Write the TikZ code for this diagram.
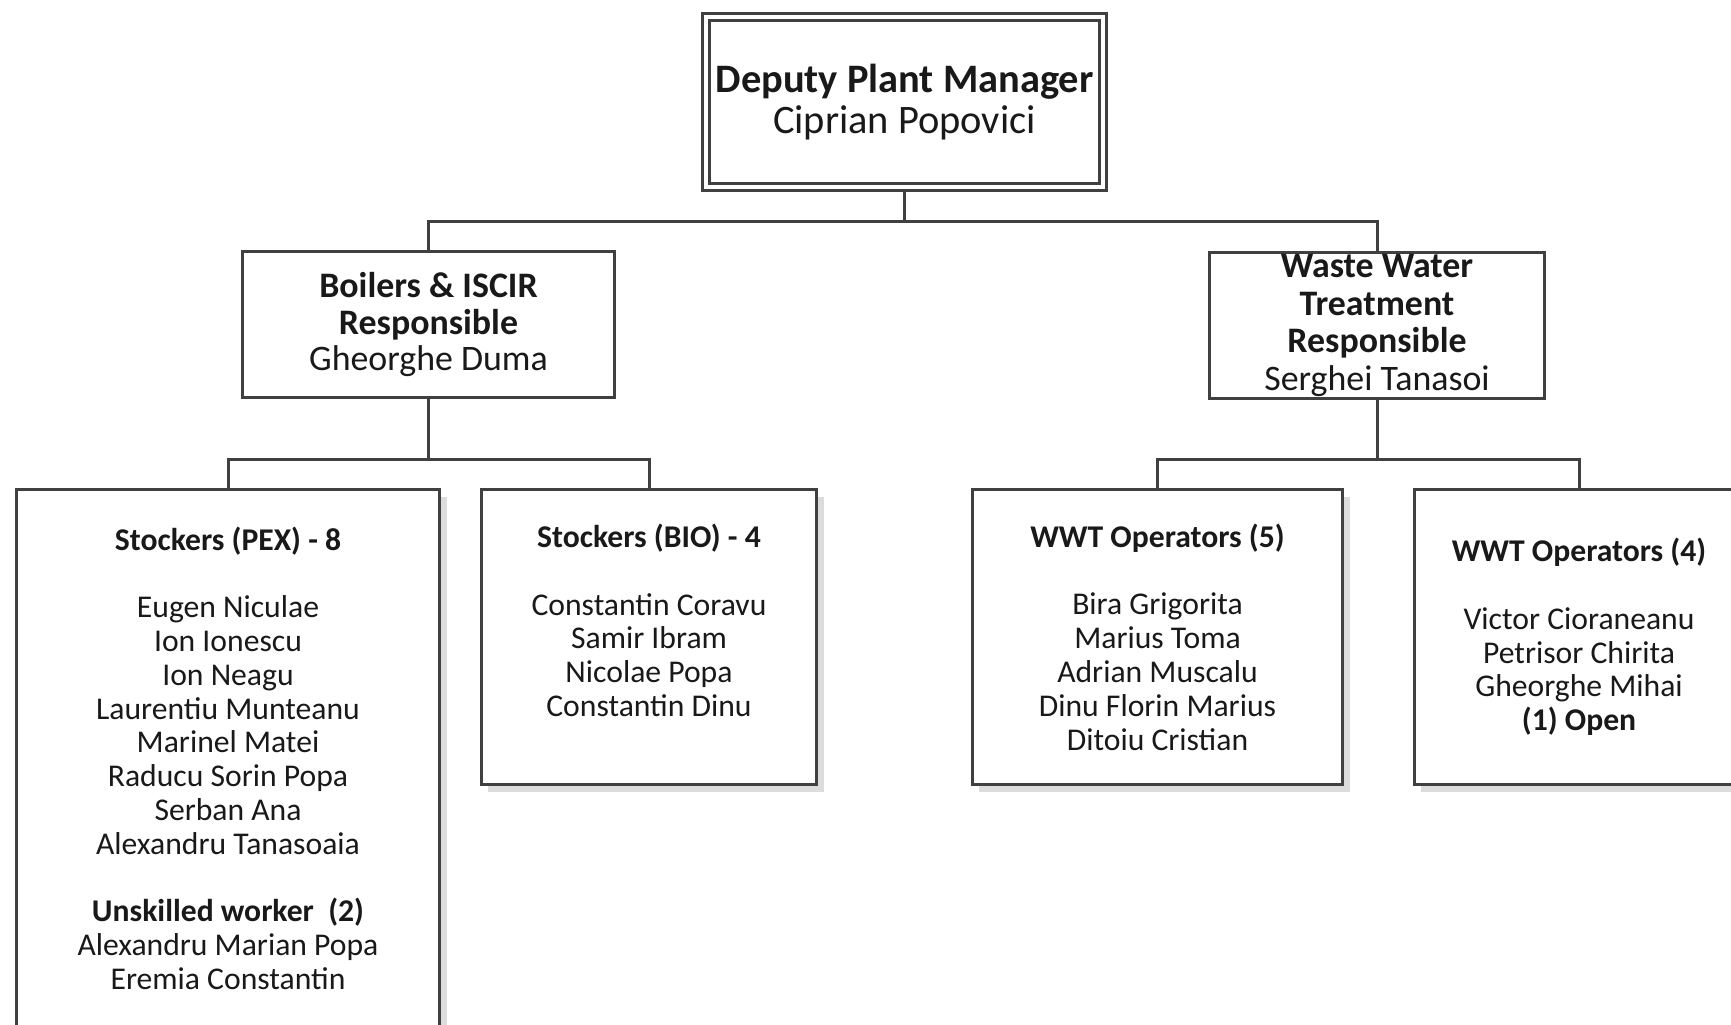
\documentclass[tikz,border=0pt]{standalone}
\usepackage{fontspec}
\setmainfont{Carlito}
\usetikzlibrary{shadows}
\definecolor{boxline}{HTML}{404040}
\definecolor{shade}{HTML}{DCDCDC}
\newcommand{\mgrfont}{\fontsize{11.5}{11.7}\selectfont}
\newcommand{\leadfont}{\fontsize{10.2}{10.4}\selectfont}
\newcommand{\wwtfont}{\fontsize{10.2}{10.7}\selectfont}
\newcommand{\crewfont}{\fontsize{9}{9.6}\selectfont}
\tikzset{
  box/.style={draw=boxline,line width=0.03cm,fill=white,text=black!90,align=center,inner sep=2pt,outer sep=0pt},
  crew/.style={box,anchor=north,font=\crewfont,general shadow={fill=shade,shadow xshift=0.07cm,shadow yshift=-0.07cm}},
  link/.style={draw=boxline,line width=0.03cm}
}

\begin{document}
\begin{tikzpicture}[x=0.01cm,y=-0.01cm]
\useasboundingbox (0,0) rectangle (1731,1024);
\clip (0,0) rectangle (1731,1024);

\node (mgr) at (904.5,102) [box,double,double distance=0.04cm,outer sep=0.05cm,minimum width=3.97cm,minimum height=1.70cm,font=\mgrfont] {\textbf{Deputy Plant Manager}\\Ciprian Popovici};

\node (boil) at (428.5,324.5) [box,minimum width=3.72cm,minimum height=1.46cm,font=\leadfont] {\textbf{Boilers \& ISCIR}\\\textbf{Responsible}\\Gheorghe Duma};
\node (wwt) at (1377,325.5) [box,inner ysep=0pt,minimum width=3.35cm,minimum height=1.46cm,font=\wwtfont] {\textbf{Waste Water}\\\textbf{Treatment}\\\textbf{Responsible}\\Serghei Tanasoi};

\node (pex) at (228,489.5) [crew,minimum width=4.23cm,minimum height=5.37cm] {\textbf{Stockers (PEX) - 8}\\[\baselineskip]Eugen Niculae\\Ion Ionescu\\Ion Neagu\\Laurentiu Munteanu\\Marinel Matei\\Raducu Sorin Popa\\Serban Ana\\Alexandru Tanasoaia\\[\baselineskip]\textbf{Unskilled worker\ \ (2)}\\Alexandru Marian Popa\\Eremia Constantin};
\node (bio) at (649,489.5) [crew,minimum width=3.35cm,minimum height=2.95cm] {\textbf{Stockers (BIO) - 4}\\[\baselineskip]Constantin Coravu\\Samir Ibram\\Nicolae Popa\\Constantin Dinu\\\mbox{}};
\node (opsfive) at (1157.5,489.5) [crew,minimum width=3.70cm,minimum height=2.95cm] {\textbf{WWT Operators (5)}\\[\baselineskip]Bira Grigorita\\Marius Toma\\Adrian Muscalu\\Dinu Florin Marius\\Ditoiu Cristian};
\node (opsfour) at (1579,489.5) [crew,minimum width=3.29cm,minimum height=2.95cm] {\textbf{WWT Operators (4)}\\[\baselineskip]Victor Cioraneanu\\Petrisor Chirita\\Gheorghe Mihai\\\textbf{(1) Open}};

% org chart lines
\coordinate (mgrbus) at (904.5,221);
\coordinate (boilbus) at (428.5,459);
\coordinate (wwtbus) at (1377,459);
\draw[link] (mgr.south) -- (mgrbus) -| (boil.north);
\draw[link] (mgrbus) -| (wwt.north);
\draw[link] (boil.south) -- (boilbus) -| (pex.north);
\draw[link] (boilbus) -| (bio.north);
\draw[link] (wwt.south) -- (wwtbus) -| (opsfive.north);
\draw[link] (wwtbus) -| (opsfour.north);
\end{tikzpicture}
\end{document}
